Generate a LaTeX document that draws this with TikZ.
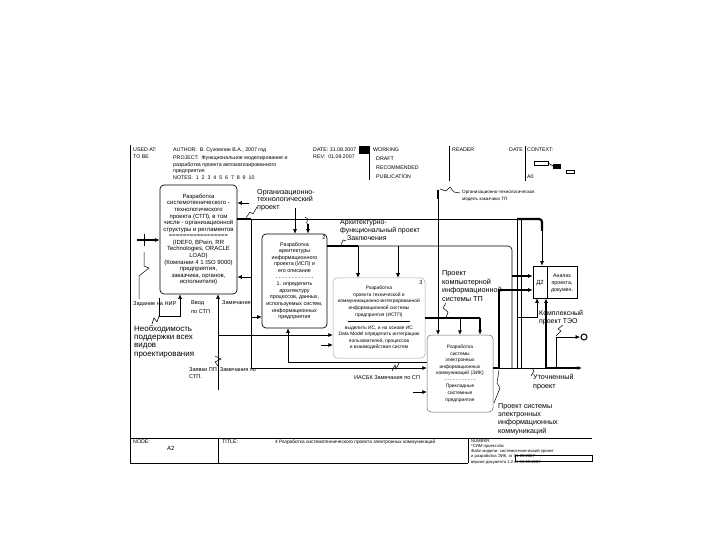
\documentclass[tikz,border=0pt]{standalone}
\usepackage{fontspec}
\setmainfont{Liberation Sans}
\usetikzlibrary{arrows.meta}
\begin{document}
\begin{tikzpicture}[x=1bp,y=-1bp,
  ln/.style={line width=0.6bp},
  tk/.style={line width=2.2bp},
  arr/.style={-{Latex[length=4.5bp,width=4bp]}},
  sq/.style={line width=0.5bp},
  blk/.style={draw,line width=0.7bp,rounded corners=4bp,inner sep=0pt,align=center},
  lbl/.style={inner sep=0pt,align=left,anchor=north west},
  hdr/.style={inner sep=0pt,anchor=west,font=\fontsize{5.3}{5.5}\selectfont},
]
\fill[white] (0,0) rectangle (720,540);
\useasboundingbox (0,0) rectangle (720,540);

% ---------- frame ----------
\draw[ln] (130,145) -- (130,463);
\draw[ln] (130,438) -- (592,438);
\draw[ln] (130,463) -- (468,463);
\draw[ln] (218,438) -- (218,463);
\draw[ln] (468,438) -- (468,463);

% ---------- header ----------
\node[hdr] (h1) at (133,150) {USED AT:};
\node[hdr] (h2) at (133,157) {TO BE};
\node[hdr] (h3) at (173,150) {AUTHOR:\ \ В. Сухомлин В.А., 2007 год};
\node[hdr] (h4) at (173,158) {PROJECT:\ \ Функциональное моделирование и};
\node[hdr] (h5) at (173,165) {разработка проекта автоматизированного};
\node[hdr] (h6) at (173,172) {предприятия};
\node[hdr] (h7) at (173,178) {NOTES:\ \ 1\ \ 2\ \ 3\ \ 4\ \ 5\ \ 6\ \ 7\ \ 8\ \ 9\ \ 10};
\node[hdr] (h8) at (313,150) {DATE:\ 31.08.2007};
\node[hdr] (h9) at (313,157) {REV:\ \ 01.09.2007};
\fill (359,146) rectangle (369,154);
\draw[ln] (369,146) -- (369,180);
\node[hdr] (h10) at (373,150) {WORKING};
\node[hdr] (h11) at (376,159) {DRAFT};
\node[hdr] (h12) at (376,168) {RECOMMENDED};
\node[hdr] (h13) at (376,177) {PUBLICATION};
\draw[ln] (449,146) -- (449,181);
\node[hdr] (h14) at (452,150) {READER};
\node[hdr] (h15) at (509,150) {DATE};
\draw[ln] (525,146) -- (525,181);
\node[hdr] (h16) at (527,150) {CONTEXT:};
\node[hdr] (h17) at (527,177) {A0};
\draw[ln] (534,161) rectangle (548,165);
\draw[ln] (548,163) -- (553,166);
\fill (553,164) rectangle (561,169);
\draw[ln] (566,170) rectangle (574,173);

% ---------- footer ----------
\node[hdr] (f1) at (133,442) {NODE:};
\node[hdr,font=\fontsize{6}{6}\selectfont] (f2) at (167,448) {A2};
\node[hdr] (f3) at (222,442) {TITLE:};
\node[hdr,font=\fontsize{4.8}{5}\selectfont] (f4) at (275,442) {4 Разработка системотехнического проекта электронных коммуникаций};
\node[hdr,font=\fontsize{4.2}{5}\selectfont] (f5) at (471,441) {NUMBER:};
\node[hdr,font=\fontsize{4.2}{5}\selectfont] (f6) at (471,446) {*СИМ-проект.doc};
\node[hdr,font=\fontsize{4.2}{5}\selectfont] (f7) at (471,451) {Файл модели: системотехнический проект};
\node[hdr,font=\fontsize{4.2}{5}\selectfont] (f8) at (471,456) {и разработка ЭИК, от 01.09.2007};
\node[hdr,font=\fontsize{4.2}{5}\selectfont] (f9) at (471,462) {версия документа 1.2 от 03.09.2007};
\draw[ln] (515,455) rectangle (592,461);

% ---------- boxes ----------
\node[blk,minimum width=77bp,minimum height=109bp,font=\fontsize{6}{6.6}\selectfont] (b1) at (198.5,239.5)
 {Разработка\\системотехнического -\\технологического\\проекта (СТП), в том\\числе - организационной\\структуры и регламентов\\=================\\(IDEF0, BPwin, RR\\Technologies, ORACLE\\LOAD)\\(Компании 4 1 ISO 9000)\\предприятия,\\заказчика, органов,\\исполнителя)};
\node[blk,minimum width=65bp,minimum height=94bp,font=\fontsize{5.4}{6.6}\selectfont] (b2) at (294.5,281)
 {Разработка\\архитектуры\\информационного\\проекта (ИСП) и\\его описание\\- - - - - - - - - - - -\\1. определить\\архитектуру\\процессов, данных,\\используемых систем,\\информационных\\предприятия};
\node[inner sep=0pt,font=\fontsize{5.5}{6}\selectfont] (n2) at (324,238) {2};
\node[blk,draw=black!35,line width=0.5bp,minimum width=92bp,minimum height=80bp,font=\fontsize{4.9}{6.6}\selectfont] (b3) at (379,318)
 {Разработка\\проекта технической и\\коммуникационно-интегрированной\\информационной системы\\предприятия (ИСТП)\\\rule[1.2bp]{62bp}{0.5bp}\\выделить ИС, и на основе ИС\\Data Model определить интеграцию\\пользователей, процессов\\и взаимодействия систем};
\node[inner sep=0pt,font=\fontsize{5.5}{6}\selectfont] (n3) at (421,283) {3};
\node[blk,draw=black!60,line width=0.5bp,minimum width=66bp,minimum height=77bp,font=\fontsize{4.9}{6.6}\selectfont] (b4) at (460,373.5)
 {Разработка\\системы\\электронных\\информационных\\коммуникаций (ЭИК)\\- - - - - - - - - - -\\Прикладные\\системные\\предприятия};
\node[draw,line width=0.7bp,minimum width=44bp,minimum height=32bp,inner sep=0pt] (b5) at (555,282) {};
\draw[ln] (547,266) -- (547,298);
\node[inner sep=0pt,font=\fontsize{6}{6}\selectfont] (n5) at (540,283) {Д2};
\node[inner sep=0pt,align=center,font=\fontsize{5.3}{7.2}\selectfont] (t5) at (562,283) {Анализ\\проекта,\\докумен.};

% ---------- box 1: input, mechanisms ----------
\coordinate (in1) at (137,240);
\draw[tk,arr] (in1) -- (in1 -| b1.west);
\draw[ln] (144,234) -- (144,246);
\draw[sq] (144,252) -- (144,266) -- (149,268) -- (139,276) -- (139,299);
\coordinate (m1) at (159,316);
\coordinate (m1c) at (180,316);
\draw[ln] (159,298) -- (m1);
\draw[ln,arr] (m1) -- (m1c) -- (m1c |- b1.south);
\coordinate (m2) at (218,390);
\draw[ln,arr] (m2) -- (m2 |- b1.south);
\coordinate (m2b) at (218,335);
\draw[ln,arr] (m2b) -- (m2b -| b3.west);
\draw[sq] (152,324) -- (154,318) -- (157,322) -- (159,316);
\draw[sq] (215,356) -- (221,359) -- (215,362) -- (218,366);

% ---------- box 1 output ----------
\coordinate (o1a) at (251,219);
\coordinate (o1b) at (517,219);
\coordinate (o1c) at (542,219);
\coordinate (o1e) at (542,231);
\draw[tk] (o1a -| b1.east) -- (o1a);
\draw[ln] (o1a) -- (o1b);
\draw[tk,rounded corners=3bp] (o1b) -- (o1c) -- (o1e);
\draw[ln,arr] (o1e) -- (o1e |- b5.north);
\coordinate (o1d) at (251,368);
\draw[ln] (o1a) -- (o1d);
\draw[ln,arr] (o1d) -- (o1d -| b4.west);
\coordinate (fb1) at (251,277);
\draw[ln,arr] (fb1) -- (fb1 -| b1.east);
\coordinate (fb0) at (249,203);
\draw[ln,arr] (fb0) -- (fb0 -| b1.east);
\coordinate (fb2) at (251,317);
\draw[ln,arr] (fb2) -- (fb2 -| b2.west);
\draw[sq] (246,218) -- (250,212) -- (253,214) -- (257,207);
\node[lbl,font=\fontsize{7.2}{7.6}\selectfont] (L1) at (257,189) {Организационно-\\технологический\\проект};

% ---------- box 2 controls ----------
\coordinate (c21) at (295,208);
\draw[ln,arr] (c21) -- (c21 |- b2.north);
\coordinate (c22) at (308,224);
\draw[line width=1.4bp,arr] (c22) -- (c22 |- b2.north);
\draw[sq] (305,217) .. controls (311,219) and (304,222) .. (308,225);

% ---------- box 2 output ----------
\coordinate (o2a) at (358,246);
\coordinate (o2b) at (512,246);
\coordinate (o2c) at (512,368);
\draw[tk] (o2a -| b2.east) -- (o2a);
\draw[ln,arr] (o2a) -- (o2a |- b3.north);
\draw[ln,rounded corners=4bp] (o2a) -- (o2b) -- (o2c);
\coordinate (c32) at (398,246);
\draw[ln,arr] (c32) -- (c32 |- b3.north);
\coordinate (i51) at (512,276);
\draw[tk,arr] (i51) -- (i51 -| b5.west);
\draw[sq] (341,245) -- (343,240) -- (346,241);
\node[lbl,font=\fontsize{7}{7.6}\selectfont] (L2) at (340,220) {Архитектурно-\\функциональный проект};
\node[lbl,font=\fontsize{7}{7.6}\selectfont] (L2b) at (347,235.5) {Заключения};

% ---------- box 3 ----------
\coordinate (i32) at (321,345);
\draw[ln,arr] (i32) -- (i32 -| b3.west);
\coordinate (o3a) at (480,318);
\draw[tk] (o3a -| b3.east) -- (o3a);
\draw[tk,arr] (o3a) -- (o3a |- b4.north);
\coordinate (c42) at (460,318);
\draw[ln,arr] (c42) -- (c42 |- b4.north);
\draw[sq] (446,303) -- (443,308) -- (448,312) -- (446,318);
\node[lbl,font=\fontsize{7.3}{8.6}\selectfont] (L4) at (442,270.5) {Проект\\компьютерной\\информационной\\системы ТП};

% ---------- box 4 control ----------
\coordinate (c41) at (438,190);
\draw[tk] (c41) -- (438,199);
\draw[ln,arr] (c41) -- (c41 |- b4.north);
\draw[sq] (440,189) -- (446,191) -- (450,187) -- (454,192) -- (460,193);
\node[lbl,font=\fontsize{4.6}{6.8}\selectfont] (L3) at (462,190) {Организационно-технологическая\\модель заказчика ТП};

% ---------- feedback to box 2 ----------
\coordinate (fb) at (288,362);
\draw[ln,arr] (fb -| b4.west) -- (fb) -- (fb |- b2.south);
\draw[sq] (392,371) -- (395,365) -- (396,369) -- (399,363);
\coordinate (i43) at (413,392);
\draw[ln,arr] (i43) -- (i43 -| b4.west);

% ---------- box 4 output and box 5 ----------
\coordinate (o4a) at (499,368);
\coordinate (o4b) at (546,368);
\coordinate (o4c) at (556,368);
\coordinate (o4e) at (582,368);
\coordinate (i52) at (499,290);
\draw[tk] (o4a -| b4.east) -- (o4a);
\draw[tk,arr] (o4a) -- (i52) -- (i52 -| b5.west);
\draw[ln] (o4a) -- (o4b);
\draw[tk,arr] (o4b) -- (o4e);
\draw[tk,arr] (o4b) -- (o4b |- b5.south);
\draw[ln] (o1b) -- (517,368);
\draw[ln] (521,219) -- (521,368);
\coordinate (m52a) at (517,317);
\coordinate (m52) at (537,317);
\draw[ln,arr] (m52a) -- (m52) -- (m52 |- b5.south);
\coordinate (o5) at (556,337);
\coordinate (o5e) at (580,337);
\draw[ln] (o4c) -- (o5);
\draw[ln,arr] (o5) -- (o5e);
\draw[line width=1bp] (584,337) circle (3bp);
\draw[sq] (563,325) -- (558,329) -- (561,331) -- (556,336);
\node[lbl,font=\fontsize{7}{8.2}\selectfont] (L12) at (539,310) {Комплексный\\проект ТЭО};
\draw[sq] (531,376) -- (534,371) -- (532,368);
\node[lbl,font=\fontsize{7.2}{9}\selectfont] (L11) at (533,374) {Уточненный\\проект};
\draw[sq] (499,370) -- (497,383) -- (500,388) -- (494,403);
\node[lbl,font=\fontsize{7.2}{8.4}\selectfont] (L13) at (498,403) {Проект системы\\электронных\\информационных\\коммуникаций};

% ---------- left labels ----------
\node[lbl,font=\fontsize{5.6}{6}\selectfont] (L5) at (133,301) {Задание на НИР};
\node[lbl,font=\fontsize{8}{8.4}\selectfont] (L6) at (134,325) {Необходимость\\поддержки всех\\видов\\проектирования};
\node[lbl,font=\fontsize{5.6}{9.5}\selectfont] (L7) at (191,300) {Ввод\\по СТП};
\node[lbl,font=\fontsize{5.6}{6}\selectfont] (L8) at (222,300) {Замечания};
\node[lbl,font=\fontsize{5.6}{7.5}\selectfont] (L9) at (189,367) {Заявки ПП\ \ Замечания по\\СТП.};
\node[lbl,font=\fontsize{5.6}{6}\selectfont] (L10) at (354,375) {ИАСБК Замечания по СП};
\end{tikzpicture}
\end{document}
